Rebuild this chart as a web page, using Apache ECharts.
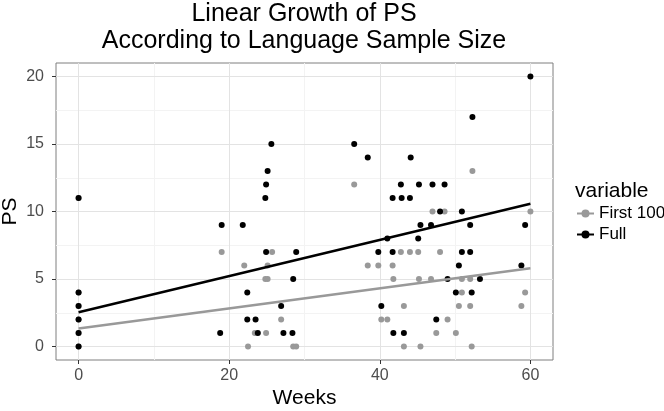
<!DOCTYPE html>
<html>
<head>
<meta charset="utf-8">
<script src="https://cdn.jsdelivr.net/npm/echarts@6/dist/echarts.min.js"></script>
<style>
html,body{margin:0;padding:0;background:#fff;}
#chart{width:664px;height:411px;}
</style>
</head>
<body>
<div id="chart"></div>
<script>
// ---- data (weeks, PS) ----
const first100Points = [
  [0,0],[0,1],[0,2],[0,3],[0,4],[0,11],
  [19,7],[22,6],[23.4,1],[22.5,0],[25.7,7],[25.1,6],[24.8,5],[25.1,5],
  [26.9,2],[24.9,1],[28.5,0],[28.9,0],
  [36.6,12],[47,10],[48.6,10],
  [42.8,7],[44,7],[45.1,7],[48,7],
  [38.4,6],[39.8,6],[41.7,6],
  [41.8,5],[45.2,5],[46.8,5],[50.9,5],[52,5],
  [50.9,4],[59.3,4],
  [43.2,3],[50.5,3],[52,3],[58.8,3],
  [40.2,2],[41,2],[49,2],
  [47.5,1],[50.1,1],
  [43.2,0],[45.4,0],[52.2,0],
  [52.3,13],[60,10]
];
const fullPoints = [
  [0,0],[0,1],[0,2],[0,3],[0,4],[0,11],
  [18.8,1],[19,9],
  [21.8,9],[22.4,4],[22.4,2],[23.5,2],[23.8,1],
  [24.8,11],[24.9,12],[25.1,13],[25.6,15],[24.9,7],
  [26.9,3],[27.2,1],[28.4,1],[28.9,7],[28.5,5],
  [36.6,15],[38.4,14],[44.1,14],
  [42.8,12],[45.2,12],[47,12],[48.6,12],
  [41.7,11],[42.9,11],[44,11],
  [48,10],[50.9,10],
  [45.4,9],[46.8,9],[52,9],[59.3,9],
  [41,8],[45.1,8],
  [39.8,7],[41.7,7],[50.9,7],[52,7],
  [50.5,6],[58.8,6],
  [49,5],[53.3,5],
  [50.1,4],[52.2,4],
  [40.2,3],
  [47.5,2],
  [41.8,1],[43.2,1],
  [60,20],[52.3,17]
];
// fitted linear trend endpoints
const first100Fit = [[0,1.33],[60,5.79]];
const fullFit = [[0,2.54],[60,10.57]];

const xTicks = [0,20,40,60];
const xMinor = [10,30,50];
const yTicks = [0,5,10,15,20];
const yMinor = [2.5,7.5,12.5,17.5];

const seriesNames = ['First 100','Full'];
const colors = {gray:'#999999', black:'#000000'};

const gridLines = [];
xMinor.forEach(v=>gridLines.push({xAxis:v, lineStyle:{color:'#f3f3f3',width:1,type:'solid'}}));
yMinor.forEach(v=>gridLines.push({yAxis:v, lineStyle:{color:'#f3f3f3',width:1,type:'solid'}}));
xTicks.forEach(v=>gridLines.push({xAxis:v, lineStyle:{color:'#e3e3e3',width:1,type:'solid'}}));
yTicks.forEach(v=>gridLines.push({yAxis:v, lineStyle:{color:'#e3e3e3',width:1,type:'solid'}}));

const chart = echarts.init(document.getElementById('chart'), null, {renderer:'canvas'});
const font = 'Liberation Sans, Arial, Helvetica, sans-serif';
chart.setOption({
  animation:false,
  backgroundColor:'#ffffff',
  textStyle:{fontFamily:font},
  title:[
    {text:'Linear Growth of PS\nAccording to Language Sample Size',
     left:304, top:1, textAlign:'center', padding:0,
     textStyle:{fontSize:25, fontWeight:'normal', color:'#000', lineHeight:27, fontFamily:font}},
    {text:'variable', left:575, top:181, padding:0,
     textStyle:{fontSize:21, fontWeight:'normal', color:'#000', fontFamily:font}}
  ],
  grid:{left:56, top:63, width:497, height:297, show:true, borderColor:'#7f7f7f', borderWidth:1,
        backgroundColor:'transparent', containLabel:false, outerBoundsMode:'none'},
  legend:{
    orient:'vertical', left:576, top:205, padding:0,
    data:seriesNames,
    itemWidth:17, itemHeight:10, itemGap:4,
    textStyle:{fontSize:17, color:'#000', fontFamily:font},
    selectedMode:false
  },
  xAxis:{
    type:'value', min:-3, max:63,
    name:'Weeks', nameLocation:'middle', nameGap:28, nameMoveOverlap:false,
    nameTextStyle:{fontSize:21, color:'#000', fontFamily:font},
    axisLine:{show:false, onZero:false},
    axisTick:{show:true, length:4, customValues:xTicks, lineStyle:{color:'#333'}},
    axisLabel:{customValues:xTicks, fontSize:16, color:'#4d4d4d', margin:8, fontFamily:font},
    splitLine:{show:false}
  },
  yAxis:{
    type:'value', min:-1, max:21,
    name:'PS', nameLocation:'middle', nameGap:35, nameMoveOverlap:false,
    nameTextStyle:{fontSize:21, color:'#000', fontFamily:font},
    axisLine:{show:false, onZero:false},
    axisTick:{show:true, length:4, customValues:yTicks, lineStyle:{color:'#333'}},
    axisLabel:{customValues:yTicks, fontSize:16, color:'#4d4d4d', margin:12, fontFamily:font},
    splitLine:{show:false}
  },
  series:[
    {type:'scatter', name:'grid', data:[], silent:true, z:0,
     markLine:{silent:true, symbol:['none','none'], label:{show:false}, z:0, animation:false, data:gridLines}},
    {type:'scatter', name:'First 100 points', data:first100Points, symbol:'circle', symbolSize:6,
     itemStyle:{color:colors.gray, opacity:1}, z:2},
    {type:'scatter', name:'Full points', data:fullPoints, symbol:'circle', symbolSize:6,
     itemStyle:{color:colors.black, opacity:1}, z:3},
    {type:'line', name:seriesNames[0], data:first100Fit, symbol:'circle', symbolSize:6, showSymbol:false,
     lineStyle:{color:colors.gray, width:2.5}, itemStyle:{color:colors.gray}, z:4},
    {type:'line', name:seriesNames[1], data:fullFit, symbol:'circle', symbolSize:6, showSymbol:false,
     lineStyle:{color:colors.black, width:2.5}, itemStyle:{color:colors.black}, z:5}
  ]
});
</script>
</body>
</html>
